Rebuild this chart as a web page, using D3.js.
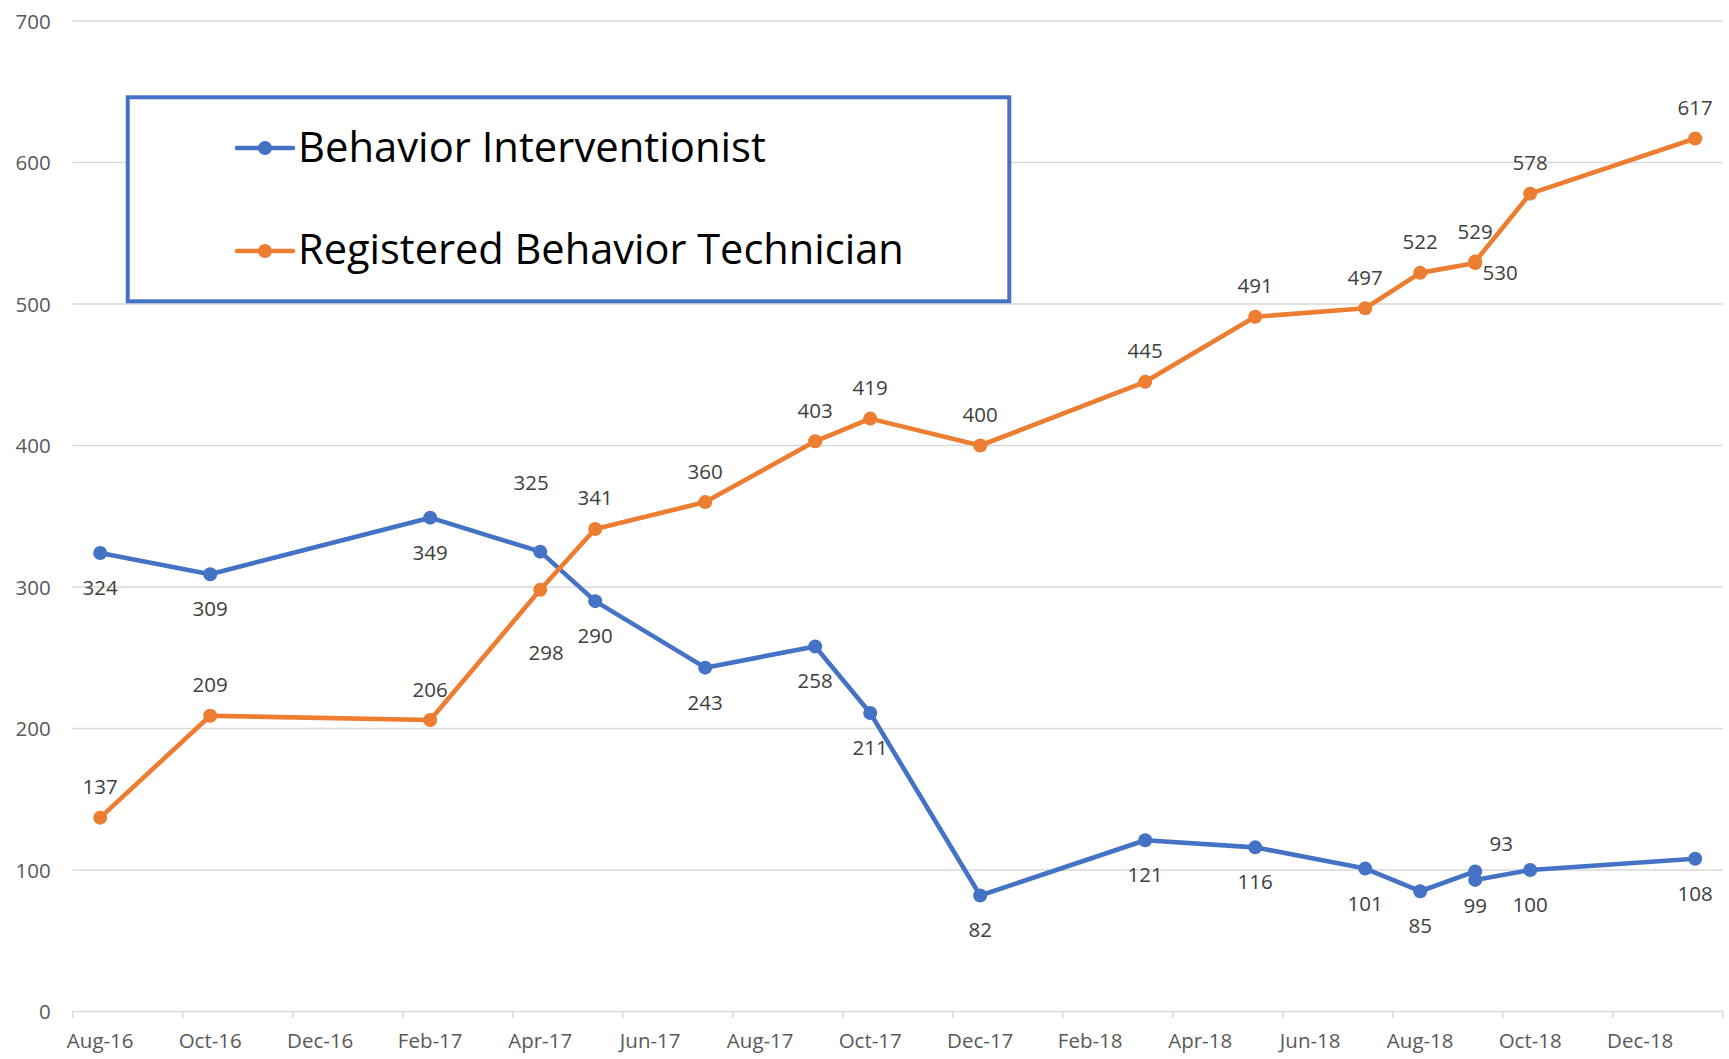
<!DOCTYPE html>
<html>
<head>
<meta charset="utf-8">
<script src="https://cdn.jsdelivr.net/npm/d3@7"></script>
<style>
  html, body { margin: 0; padding: 0; background: #ffffff; }
  svg { display: block; }
</style>
</head>
<body>
<svg id="chart" width="1729" height="1059"></svg>
<script>
// ---------- DATA ----------
const months = ["Aug-16","Sep-16","Oct-16","Nov-16","Dec-16","Jan-17","Feb-17","Mar-17","Apr-17","May-17",
  "Jun-17","Jul-17","Aug-17","Sep-17","Oct-17","Nov-17","Dec-17","Jan-18","Feb-18","Mar-18",
  "Apr-18","May-18","Jun-18","Jul-18","Aug-18","Sep-18","Oct-18","Nov-18","Dec-18","Jan-19"];
const tickLabels = ["Aug-16","Oct-16","Dec-16","Feb-17","Apr-17","Jun-17","Aug-17","Oct-17","Dec-17",
  "Feb-18","Apr-18","Jun-18","Aug-18","Oct-18","Dec-18"];
const yTicks = [0,100,200,300,400,500,600,700];
const pointMonths = ["Aug-16","Oct-16","Feb-17","Apr-17","May-17","Jul-17","Sep-17","Oct-17","Dec-17",
  "Mar-18","May-18","Jul-18","Aug-18","Sep-18","Sep-18","Oct-18","Jan-19"];
const biValues  = [324,309,349,325,290,243,258,211,82,121,116,101,85,99,93,100,108];
const rbtValues = [137,209,206,298,341,360,403,419,400,445,491,497,522,529,530,578,617];
const seriesNames = ["Behavior Interventionist","Registered Behavior Technician"];

// label placement (separate from values)
const biLabelPlace  = ["below","below","below","aboveFar","below","below","below","below","below",
  "below","below","below","below","below","aboveRight","below","below"];
const rbtLabelPlace = ["above","above","above","belowFar","above","above","above","above","above",
  "above","above","above","above","above","belowRight","above","above"];

// ---------- LAYOUT ----------
const W = 1729, H = 1059;
const plotLeft = 72.7, plotRight = 1722.7, plotTop = 21, plotBottom = 1011.5;
const blue = "#4472C4", orange = "#ED7D31";
const font = "'Open Sans', 'Liberation Sans', sans-serif";

const svg = d3.select("#chart");

const x = d3.scaleBand().domain(months).range([plotLeft, plotRight]).padding(0);
const y = d3.scaleLinear().domain([0, 700]).range([plotBottom, plotTop]);
const cx = m => x(m) + x.bandwidth() / 2;

// gridlines
svg.append("g").selectAll("line").data(yTicks.filter(d => d > 0)).join("line")
  .attr("x1", plotLeft).attr("x2", plotRight)
  .attr("y1", d => y(d)).attr("y2", d => y(d))
  .attr("stroke", "#D9D9D9").attr("stroke-width", 1.3);

// y axis labels
const yAxis = d3.axisLeft(y).tickValues(yTicks).tickSize(0).tickPadding(22);
const gy = svg.append("g").attr("transform", `translate(${plotLeft},0)`).call(yAxis);
gy.select(".domain").remove();
gy.selectAll("text").attr("font-family", font).attr("font-size", 20.5)
  .attr("fill", "#595959").attr("dy", "0.35em");

// x axis
const xAxis = d3.axisBottom(x).tickValues(tickLabels).tickSize(0).tickPadding(0);
const gx = svg.append("g").attr("transform", `translate(0,${plotBottom})`).call(xAxis);
gx.select(".domain").attr("stroke", "#D9D9D9").attr("stroke-width", 1.5)
  .attr("d", `M${plotLeft},0H${plotRight}`);
gx.selectAll("text").attr("font-family", font).attr("font-size", 20.5)
  .attr("fill", "#595959").attr("y", 36).attr("dy", 0);
// tick marks at slot boundaries
const tickPos = tickLabels.map(m => x(m)).concat([plotRight]);
gx.append("g").selectAll("line").data(tickPos).join("line")
  .attr("x1", d => d).attr("x2", d => d).attr("y1", 0).attr("y2", 6.5)
  .attr("stroke", "#D9D9D9").attr("stroke-width", 1.5);

// series
const series = [
  { name: seriesNames[0], values: biValues, color: blue, place: biLabelPlace },
  { name: seriesNames[1], values: rbtValues, color: orange, place: rbtLabelPlace }
];

const line = d3.line().x(d => cx(d.m)).y(d => y(d.v));

const labelOffset = {
  above: [0, -23.5], below: [0, 42], aboveFar: [-9, -62], belowFar: [6, 70],
  aboveRight: [26, -28.6], belowRight: [25, 18]
};

series.forEach(s => {
  const pts = s.values.map((v, i) => ({ m: pointMonths[i], v, p: s.place[i] }));
  const g = svg.append("g");
  g.append("path").datum(pts).attr("d", line)
    .attr("fill", "none").attr("stroke", s.color).attr("stroke-width", 4.6)
    .attr("stroke-linejoin", "round").attr("stroke-linecap", "round");
  g.selectAll("circle").data(pts).join("circle")
    .attr("cx", d => cx(d.m)).attr("cy", d => y(d.v)).attr("r", 7)
    .attr("fill", s.color);
  s.pts = pts;
});

series.forEach(s => {
  svg.append("g").selectAll("text").data(s.pts).join("text")
    .attr("x", d => cx(d.m) + labelOffset[d.p][0])
    .attr("y", d => y(d.v) + labelOffset[d.p][1])
    .attr("text-anchor", "middle")
    .attr("font-family", font).attr("font-size", 20.5).attr("fill", "#404040")
    .text(d => d.v);
});

// legend
const lg = svg.append("g");
lg.append("rect").attr("x", 127.7).attr("y", 97.3).attr("width", 1009.3 - 127.7).attr("height", 301.3 - 97.3)
  .attr("fill", "#ffffff").attr("stroke", blue).attr("stroke-width", 4);
const legendRows = [
  { name: seriesNames[0], color: blue, ly: 148, ty: 161.7, w: 468 },
  { name: seriesNames[1], color: orange, ly: 251, ty: 264, w: 606 }
];
legendRows.forEach(r => {
  lg.append("line").attr("x1", 237).attr("x2", 293).attr("y1", r.ly).attr("y2", r.ly)
    .attr("stroke", r.color).attr("stroke-width", 4.6).attr("stroke-linecap", "round");
  lg.append("circle").attr("cx", 265).attr("cy", r.ly).attr("r", 7).attr("fill", r.color);
  const t = lg.append("text").attr("x", 298).attr("y", r.ty)
    .attr("font-family", font).attr("font-size", 44).attr("fill", "#000000").text(r.name);
  const len = t.node().getComputedTextLength();
  t.attr("font-size", 44 * r.w / len);
});
</script>
</body>
</html>
